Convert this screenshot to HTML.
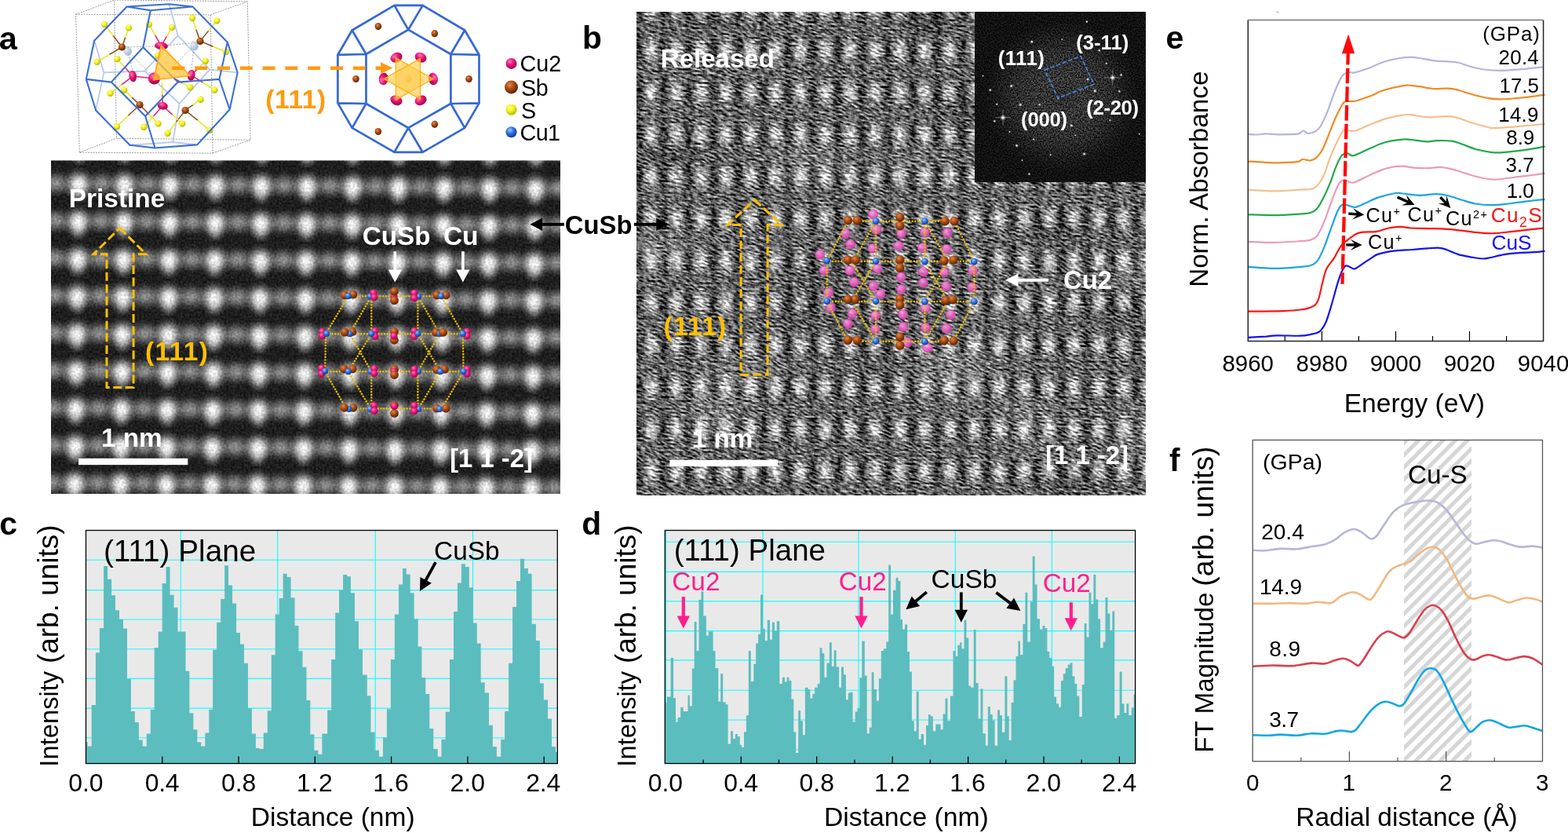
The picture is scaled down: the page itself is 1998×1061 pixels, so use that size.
<!DOCTYPE html>
<html lang="en"><head><meta charset="utf-8"><title>Figure</title>
<style>
html,body{margin:0;padding:0;background:#fff;}
body{width:1998px;height:1061px;overflow:hidden;}
svg{display:block;font-family:"Liberation Sans",sans-serif;}
</style></head><body>
<svg width="1998" height="1061" viewBox="0 0 1998 1061">
<defs>
<radialGradient id="gw"><stop offset="0" stop-color="#fff" stop-opacity="1"/><stop offset=".2" stop-color="#fff" stop-opacity=".9"/><stop offset=".4" stop-color="#fff" stop-opacity=".62"/><stop offset=".6" stop-color="#fff" stop-opacity=".3"/><stop offset=".8" stop-color="#fff" stop-opacity=".09"/><stop offset="1" stop-color="#fff" stop-opacity="0"/></radialGradient>
<radialGradient id="gk"><stop offset="0" stop-color="#000" stop-opacity="1"/><stop offset=".2" stop-color="#000" stop-opacity=".9"/><stop offset=".4" stop-color="#000" stop-opacity=".62"/><stop offset=".6" stop-color="#000" stop-opacity=".3"/><stop offset=".8" stop-color="#000" stop-opacity=".09"/><stop offset="1" stop-color="#000" stop-opacity="0"/></radialGradient>
<linearGradient id="aband" x1="0" y1="0" x2="0" y2="1"><stop offset="0" stop-color="#fff" stop-opacity="0"/><stop offset=".5" stop-color="#fff" stop-opacity=".2"/><stop offset="1" stop-color="#fff" stop-opacity="0"/></linearGradient>
<pattern id="pa" patternUnits="userSpaceOnUse" x="71.3" y="210.5" width="58.19" height="47.67" patternTransform="matrix(1 .00964 -.0132 1 3.09 -.968)"><rect width="59.2" height="48.7" fill="#1c1c1c"/><rect x="-1" y="7.8" width="60.2" height="32" fill="url(#aband)"/><ellipse cx="0" cy="22.8" rx="21" ry="19" fill="url(#gw)" opacity=".4"/><ellipse cx="58.2" cy="22.8" rx="21" ry="19" fill="url(#gw)" opacity=".4"/><ellipse cx="29.1" cy="32.8" rx="14" ry="20" fill="url(#gw)" opacity=".45"/><ellipse cx="29.1" cy="23.8" rx="21" ry="22.5" fill="url(#gw)" opacity=".97"/></pattern>
<filter id="na" x="0" y="0" width="100%" height="100%" color-interpolation-filters="sRGB"><feTurbulence type="fractalNoise" baseFrequency=".36" numOctaves="1" seed="3" result="t"/><feColorMatrix in="t" type="matrix" values="2.2 0 0 0 -.6  2.2 0 0 0 -.6  2.2 0 0 0 -.6  0 0 0 0 1" result="n"/><feComposite in="SourceGraphic" in2="n" operator="arithmetic" k1=".1" k2=".92" k3=".1" k4="-.04"/></filter>
<pattern id="pb" patternUnits="userSpaceOnUse" x="1035.9" y="305.4" width="31.69" height="53.57"><rect width="32.7" height="54.6" fill="#6a6a6a"/><ellipse cx="0" cy="26.8" rx="10" ry="40" fill="url(#gk)" opacity=".55"/><ellipse cx="31.7" cy="26.8" rx="10" ry="40" fill="url(#gk)" opacity=".55"/><ellipse cx="15.8" cy="0" rx="18" ry="12" fill="url(#gk)" opacity=".05"/><ellipse cx="15.8" cy="53.6" rx="18" ry="12" fill="url(#gk)" opacity=".05"/><ellipse cx="15.8" cy="26.8" rx="13.5" ry="22" fill="url(#gw)" opacity=".75"/></pattern>
<filter id="nb" x="0" y="0" width="100%" height="100%" color-interpolation-filters="sRGB"><feTurbulence type="fractalNoise" baseFrequency=".33 .4" numOctaves="2" seed="11" result="t"/><feColorMatrix in="t" type="matrix" values="1 0 0 0 0  1 0 0 0 0  1 0 0 0 0  0 0 0 0 1" result="g"/><feConvolveMatrix in="g" order="5 3" kernelMatrix="1 .6 0 0 0  .3 1 1 1 .3  0 0 0 .6 1" divisor="6.8" edgeMode="duplicate" preserveAlpha="true" result="c"/><feColorMatrix in="c" type="matrix" values="2.80 0 0 0 -0.900  2.80 0 0 0 -0.900  2.80 0 0 0 -0.900  0 0 0 0 1" result="n"/><feComposite in="SourceGraphic" in2="n" operator="arithmetic" k1="0" k2="1" k3="1" k4="-.5"/></filter>
<clipPath id="cb"><rect x="811" y="15.5" width="649" height="614.8"/></clipPath>
<radialGradient id="gfft"><stop offset="0" stop-color="#fff" stop-opacity=".07"/><stop offset=".25" stop-color="#fff" stop-opacity=".1"/><stop offset=".6" stop-color="#fff" stop-opacity=".07"/><stop offset=".85" stop-color="#fff" stop-opacity=".02"/><stop offset="1" stop-color="#fff" stop-opacity="0"/></radialGradient>
<filter id="nf" x="0" y="0" width="100%" height="100%" color-interpolation-filters="sRGB"><feTurbulence type="fractalNoise" baseFrequency=".55" numOctaves="2" seed="7" result="t"/><feColorMatrix in="t" type="matrix" values="2.6 0 0 0 -.8  2.6 0 0 0 -.8  2.6 0 0 0 -.8  0 0 0 0 1" result="n"/><feComposite in="SourceGraphic" in2="n" operator="arithmetic" k1="2.1" k2=".5" k3=".04" k4="-.012"/></filter>
<radialGradient id="sY" cx=".38" cy=".32" r=".75"><stop offset="0" stop-color="#ffff9a"/><stop offset=".45" stop-color="#f2f21a"/><stop offset="1" stop-color="#a8a800"/></radialGradient>
<radialGradient id="sB" cx=".38" cy=".32" r=".75"><stop offset="0" stop-color="#e08a50"/><stop offset=".45" stop-color="#a84a12"/><stop offset="1" stop-color="#4a1c00"/></radialGradient>
<radialGradient id="sM" cx=".38" cy=".32" r=".75"><stop offset="0" stop-color="#ff7ab8"/><stop offset=".45" stop-color="#ea1676"/><stop offset="1" stop-color="#8e0044"/></radialGradient>
<radialGradient id="sC" cx=".38" cy=".32" r=".75"><stop offset="0" stop-color="#9cc6ff"/><stop offset=".45" stop-color="#2f6fe0"/><stop offset="1" stop-color="#0b2f8c"/></radialGradient>
<radialGradient id="sL" cx=".38" cy=".32" r=".75"><stop offset="0" stop-color="#e6f0f8"/><stop offset=".45" stop-color="#b4cde0"/><stop offset="1" stop-color="#86a6c4"/></radialGradient>
<radialGradient id="sP" cx=".38" cy=".32" r=".75"><stop offset="0" stop-color="#f7a6e0"/><stop offset=".45" stop-color="#ee6cc8"/><stop offset="1" stop-color="#d23aa6"/></radialGradient>
<radialGradient id="sO" cx=".38" cy=".32" r=".75"><stop offset="0" stop-color="#ffd06a"/><stop offset=".45" stop-color="#e8a018"/><stop offset="1" stop-color="#9a6400"/></radialGradient>
<clipPath id="ce"><rect x="1590.3" y="25.5" width="378.3" height="409"/></clipPath>
<pattern id="hatch" patternUnits="userSpaceOnUse" width="11" height="11" patternTransform="translate(1789 560.5) rotate(-45)"><rect width="11" height="11" fill="#fff"/><rect y="0" width="11" height="5" fill="#d6d6d6"/></pattern>
</defs>
<rect width="1998" height="1061" fill="#fff"/>
<rect x="65" y="204.5" width="649" height="424.5" fill="url(#pa)" filter="url(#na)"/>
<g clip-path="url(#cb)"><g filter="url(#nb)"><rect x="803" y="7.5" width="665" height="630.8" fill="url(#pb)"/><ellipse cx="1215.3" cy="471.6" rx="79.8" ry="67.7" fill="url(#gw)" opacity="0.19"/><ellipse cx="1409.6" cy="33.3" rx="63.3" ry="67.7" fill="url(#gk)" opacity="0.18"/><ellipse cx="1395.7" cy="85.1" rx="63.5" ry="39.9" fill="url(#gw)" opacity="0.17"/><ellipse cx="1183.5" cy="23.6" rx="50.8" ry="41.2" fill="url(#gk)" opacity="0.21"/><ellipse cx="1308" cy="113.6" rx="79.9" ry="35.6" fill="url(#gw)" opacity="0.17"/><ellipse cx="893.2" cy="16.6" rx="83.6" ry="38.4" fill="url(#gk)" opacity="0.13"/><ellipse cx="1448.6" cy="551.9" rx="54.5" ry="68.5" fill="url(#gw)" opacity="0.16"/><ellipse cx="1250.9" cy="141.4" rx="87" ry="57.6" fill="url(#gk)" opacity="0.22"/><ellipse cx="1391" cy="199.2" rx="58.1" ry="36.6" fill="url(#gw)" opacity="0.12"/><ellipse cx="853.3" cy="200.8" rx="70.2" ry="30.1" fill="url(#gk)" opacity="0.18"/><ellipse cx="1030.3" cy="206.1" rx="80.9" ry="49.2" fill="url(#gw)" opacity="0.14"/><ellipse cx="1123.3" cy="448.7" rx="42.9" ry="69" fill="url(#gk)" opacity="0.10"/><ellipse cx="1297.6" cy="534.9" rx="40.9" ry="61.5" fill="url(#gw)" opacity="0.14"/><ellipse cx="1186.5" cy="21.1" rx="42.3" ry="37.2" fill="url(#gk)" opacity="0.21"/><ellipse cx="938.5" cy="480.1" rx="86.5" ry="67.7" fill="url(#gw)" opacity="0.14"/><ellipse cx="1041.3" cy="338.1" rx="78.8" ry="34.3" fill="url(#gk)" opacity="0.19"/><ellipse cx="1328.4" cy="544" rx="41.8" ry="67.8" fill="url(#gw)" opacity="0.11"/><ellipse cx="1032.1" cy="391" rx="85.9" ry="43.6" fill="url(#gk)" opacity="0.21"/><ellipse cx="1164.8" cy="207.6" rx="55.8" ry="37.1" fill="url(#gw)" opacity="0.11"/><ellipse cx="907.6" cy="439.2" rx="89.8" ry="36.5" fill="url(#gk)" opacity="0.11"/><ellipse cx="1451.4" cy="343.5" rx="60.3" ry="39.5" fill="url(#gw)" opacity="0.17"/><ellipse cx="1347.3" cy="295.6" rx="61.1" ry="32.2" fill="url(#gk)" opacity="0.21"/><ellipse cx="832.2" cy="318.9" rx="81.9" ry="35.2" fill="url(#gw)" opacity="0.19"/><ellipse cx="1427.4" cy="403.1" rx="79.4" ry="34.3" fill="url(#gk)" opacity="0.15"/><ellipse cx="907.9" cy="534.8" rx="54.7" ry="48.1" fill="url(#gw)" opacity="0.22"/><ellipse cx="1364.1" cy="615.5" rx="62.7" ry="49.5" fill="url(#gk)" opacity="0.19"/></g></g>
<g filter="url(#nf)"><rect x="1242" y="15.5" width="218" height="216.5" fill="#0a0a0a"/><ellipse cx="1353.3" cy="122.6" rx="100" ry="98" fill="url(#gfft)"/></g>
<g><circle cx="1384.9" cy="27.6" r="2.2" fill="url(#gw)"/><circle cx="1314.8" cy="53.2" r="2.7" fill="url(#gw)"/><circle cx="1400.8" cy="64.3" r="2.3" fill="url(#gw)"/><circle cx="1417.7" cy="98.9" r="4.3" fill="url(#gw)"/><circle cx="1428.6" cy="95.5" r="2.4" fill="url(#gw)"/><circle cx="1261.7" cy="114.7" r="2.4" fill="url(#gw)"/><circle cx="1288.8" cy="109.5" r="2.7" fill="url(#gw)"/><circle cx="1395.1" cy="115.8" r="2.7" fill="url(#gw)"/><circle cx="1426.3" cy="116.3" r="2.2" fill="url(#gw)"/><circle cx="1386.1" cy="101.1" r="2.4" fill="url(#gw)"/><circle cx="1300.1" cy="133.5" r="2.7" fill="url(#gw)"/><circle cx="1270.3" cy="132.8" r="2" fill="url(#gw)"/><circle cx="1278" cy="149.8" r="4.3" fill="url(#gw)"/><circle cx="1267.3" cy="154.3" r="2.2" fill="url(#gw)"/><circle cx="1324.6" cy="133.3" r="1.9" fill="url(#gw)"/><circle cx="1365.3" cy="159.9" r="2.7" fill="url(#gw)"/><circle cx="1317.1" cy="177.4" r="2" fill="url(#gw)"/><circle cx="1295.6" cy="185.5" r="2.7" fill="url(#gw)"/><circle cx="1381.6" cy="196.1" r="2.7" fill="url(#gw)"/><circle cx="1311.4" cy="221.7" r="2.2" fill="url(#gw)"/><circle cx="1348.3" cy="124.9" r="2.2" fill="url(#gw)"/><circle cx="1409.8" cy="80.8" r="1.9" fill="url(#gw)"/><circle cx="1286.6" cy="167.9" r="1.8" fill="url(#gw)"/><circle cx="1414.4" cy="153.2" r="1.9" fill="url(#gw)"/><circle cx="1353.3" cy="50.2" r="1.6" fill="url(#gw)"/><circle cx="1451.7" cy="170.6" r="1.6" fill="url(#gw)"/><circle cx="1302.4" cy="204.1" r="1.6" fill="url(#gw)"/><circle cx="1252.6" cy="96.6" r="1.6" fill="url(#gw)"/><circle cx="1370.2" cy="172.4" r="1.6" fill="url(#gw)"/><circle cx="1338.6" cy="197.3" r="1.8" fill="url(#gw)"/><path d="M1407.7 98.9h20M1417.7 88.9v20" stroke="#fff" stroke-opacity=".45" stroke-width=".8"/><path d="M1268 149.8h20M1278 139.8v20" stroke="#fff" stroke-opacity=".45" stroke-width=".8"/></g>
<g><path d="M96.6 18.3L268.2 18.9L271 195.1L101.3 194.2ZM145.6 0L315.3 1.9L319.1 178.2L148.4 176.3ZM96.6 18.3L145.6 0M268.2 18.9L315.3 1.9M271 195.1L319.1 178.2M101.3 194.2L148.4 176.3" fill="none" stroke="#555" stroke-width=".6" stroke-dasharray="2 1.3"/><path d="M215.4 5.3L226.7 45.2M226.7 45.2L267.2 88.6M267.2 88.6L302.7 92.4M267.2 88.6L228.6 132M228.6 132L184.3 90.5M184.3 90.5L226.7 45.2M184.3 90.5L132.4 92.4M132.4 92.4L120.2 51.8M132.4 92.4L122.1 140.5M228.6 132L220.1 181M220.1 181L165.4 184.8M220.1 181L251.2 184.4" fill="none" stroke="#b9c9f0" stroke-width="1.8" stroke-linecap="round"/><path d="M162.6 60L205.4 58.4M205.4 58.4L247.4 54.7M162.6 65L169.2 90.5M162.6 65L191.8 94.3M247.4 58.4L243.7 88.6M247.4 58.4L222 83" fill="none" stroke="#777" stroke-width=".6" stroke-dasharray="2.2 1.6"/><ellipse cx="162.6" cy="65" rx="5.2" ry="6" fill="url(#sL)" opacity=".85" transform="rotate(-20 162.6 65)"/><ellipse cx="247.4" cy="58.4" rx="5.2" ry="6" fill="url(#sL)" opacity=".85" transform="rotate(-20 247.4 58.4)"/><path d="M155.4 60L144.2 45.5M155.4 60L159.7 47.7M155.4 60L139.5 69.4M255 52.4L250 37.7M255 52.4L265.6 39.4M255 52.4L271.5 59.2M178 133.5L168.1 124.1M178 133.5L163.4 147.3M178 133.5L189.8 145.5M236.1 140.5L245.8 133.6M236.1 140.5L224.8 155.1M236.1 140.5L251.7 153.2" stroke="#8a4a12" stroke-width="1.5" fill="none"/><path d="M205.4 58.4L197.7 44.8M205.4 58.4L212.3 46.7M169.2 97.1L159.3 86.1M169.2 97.1L154.9 107.9M243.7 95.8L252.8 86.7M243.7 95.8L258.5 105.2M222 99.9L232.2 105.6M207.3 134.8L206.9 120.2M207.3 134.8L195.3 148.3M207.3 134.8L219.8 146.1M169.2 97.1L196.5 99.9" stroke="#e8206e" stroke-width="1.5" fill="none"/><path d="M144.2 45.5L133 31.1M159.7 47.7L163.9 35.4M139.5 69.4L123.6 78.8M250 37.7L245 23M265.6 39.4L276.3 26.4M271.5 59.2L288 66M197.7 44.8L189.9 31.1M212.3 46.7L219.1 34.9M159.3 86.1L149.4 75M154.9 107.9L140.5 118.8M252.8 86.7L261.9 77.7M258.5 105.2L273.3 114.6M232.2 105.6L242.3 111.2M206.9 120.2L206.5 105.6M195.3 148.3L183.3 161.8M219.8 146.1L232.3 157.4M168.1 124.1L158.2 114.6M163.4 147.3L148.8 161.2M189.8 145.5L201.6 157.4M245.8 133.6L255.5 126.7M224.8 155.1L213.5 169.7M251.7 153.2L267.2 165.9" stroke="#e6e620" stroke-width="1.5" fill="none"/><circle cx="133" cy="31.1" r="4.2" fill="url(#sY)"/><circle cx="163.9" cy="35.4" r="4.2" fill="url(#sY)"/><circle cx="189.9" cy="31.1" r="4.2" fill="url(#sY)"/><circle cx="219.1" cy="34.9" r="4.2" fill="url(#sY)"/><circle cx="245" cy="23" r="4.2" fill="url(#sY)"/><circle cx="276.3" cy="26.4" r="4.2" fill="url(#sY)"/><circle cx="123.6" cy="78.8" r="4.2" fill="url(#sY)"/><circle cx="149.4" cy="75" r="4.2" fill="url(#sY)"/><circle cx="288" cy="66" r="4.2" fill="url(#sY)"/><circle cx="261.9" cy="77.7" r="4.2" fill="url(#sY)"/><circle cx="140.5" cy="118.8" r="4.2" fill="url(#sY)"/><circle cx="158.2" cy="114.6" r="4.2" fill="url(#sY)"/><circle cx="242.3" cy="111.2" r="4.2" fill="url(#sY)"/><circle cx="273.3" cy="114.6" r="4.2" fill="url(#sY)"/><circle cx="255.5" cy="126.7" r="4.2" fill="url(#sY)"/><circle cx="148.8" cy="161.2" r="4.2" fill="url(#sY)"/><circle cx="183.3" cy="161.8" r="4.2" fill="url(#sY)"/><circle cx="201.6" cy="157.4" r="4.2" fill="url(#sY)"/><circle cx="213.5" cy="169.7" r="4.2" fill="url(#sY)"/><circle cx="232.3" cy="157.4" r="4.2" fill="url(#sY)"/><circle cx="267.2" cy="165.9" r="4.2" fill="url(#sY)"/><circle cx="201.2" cy="70.7" r="4.2" fill="url(#sY)"/><circle cx="155.4" cy="60" r="4.6" fill="url(#sB)"/><circle cx="255" cy="52.4" r="4.6" fill="url(#sB)"/><circle cx="178" cy="133.5" r="4.6" fill="url(#sB)"/><circle cx="236.1" cy="140.5" r="4.6" fill="url(#sB)"/><ellipse cx="205.4" cy="58.4" rx="8.5" ry="4.8" fill="url(#sM)" transform="rotate(5 205.4 58.4)"/><ellipse cx="169.2" cy="97.1" rx="4.8" ry="7.2" fill="url(#sM)" transform="rotate(-8 169.2 97.1)"/><ellipse cx="196.5" cy="99.9" rx="7.6" ry="7.6" fill="url(#sM)" transform="rotate(0 196.5 99.9)"/><ellipse cx="243.7" cy="95.8" rx="4.8" ry="7.2" fill="url(#sM)" transform="rotate(8 243.7 95.8)"/><ellipse cx="207.3" cy="134.8" rx="6.6" ry="4.8" fill="url(#sM)" transform="rotate(10 207.3 134.8)"/><path d="M161.6 8.5L191.8 13.2M191.8 13.2L245.5 8.5M245.5 8.5L215.4 5.3M215.4 5.3L161.6 8.5M245.5 8.5L289.8 53.7M289.8 53.7L302.7 92.4M302.7 92.4L292.7 139.5M292.7 139.5L251.2 184.4M251.2 184.4L197.5 188.5M197.5 188.5L165.4 184.8M165.4 184.8L122.1 140.5M122.1 140.5L109.8 100.9M109.8 100.9L120.2 51.8M120.2 51.8L161.6 8.5M191.8 13.2L182.4 60.3M182.4 60.3L141.8 104.6M182.4 60.3L226.7 104.6M226.7 104.6L185.2 148M185.2 148L141.8 104.6M109.8 100.9L141.8 104.6M226.7 104.6L279.5 100.9M279.5 100.9L289.8 53.7M279.5 100.9L292.7 139.5M185.2 148L197.5 188.5" fill="none" stroke="#3d6fd2" stroke-width="2.1" stroke-linecap="round"/><polygon points="205.4,58.1 195.6,101.8 242.3,96.5" fill="#ffc640" fill-opacity=".78" stroke="#ffa51e" stroke-width="1.6" stroke-linejoin="round"/></g>
<g><path d="M502.5 6.9L538.6 6.9L592.2 38.5L610.5 69.8L610.5 131.4L592.2 162.9L538.6 193.8L502.5 193.8L448.7 162.9L430.4 131.4L430.4 69.8L448.7 38.5ZM520.3 37.8L574.4 69L574.4 132L520.3 162.9L466.5 132L466.5 69ZM520.3 37.8L502.5 6.9M520.3 37.8L538.6 6.9M574.4 69L592.2 38.5M574.4 69L610.5 69.8M574.4 132L610.5 131.4M574.4 132L592.2 162.9M520.3 162.9L538.6 193.8M520.3 162.9L502.5 193.8M466.5 132L448.7 162.9M466.5 132L430.4 131.4M466.5 69L430.4 69.8M466.5 69L448.7 38.5" fill="none" stroke="#3568d4" stroke-width="2.7" stroke-linejoin="round" stroke-linecap="round"/><ellipse cx="481.9" cy="33.6" rx="4.3" ry="4.6" fill="url(#sB)"/><ellipse cx="553.8" cy="42.7" rx="4.3" ry="4.6" fill="url(#sB)"/><ellipse cx="597.5" cy="100.5" rx="4.3" ry="4.6" fill="url(#sB)"/><ellipse cx="553.8" cy="158.3" rx="4.3" ry="4.6" fill="url(#sB)"/><ellipse cx="481.9" cy="167.5" rx="4.3" ry="4.6" fill="url(#sB)"/><ellipse cx="453.5" cy="100.5" rx="4.3" ry="4.6" fill="url(#sB)"/><ellipse cx="505" cy="73.2" rx="7.8" ry="6" fill="url(#sM)" transform="rotate(-25 505 73.2)"/><ellipse cx="536.1" cy="73.2" rx="7.8" ry="6" fill="url(#sM)" transform="rotate(25 536.1 73.2)"/><ellipse cx="551.9" cy="100.5" rx="7.8" ry="6" fill="url(#sM)" transform="rotate(80 551.9 100.5)"/><ellipse cx="536.1" cy="127.8" rx="7.8" ry="6" fill="url(#sM)" transform="rotate(-25 536.1 127.8)"/><ellipse cx="505" cy="127.8" rx="7.8" ry="6" fill="url(#sM)" transform="rotate(25 505 127.8)"/><ellipse cx="488.8" cy="100.5" rx="7.8" ry="6" fill="url(#sM)" transform="rotate(-80 488.8 100.5)"/><circle cx="520.3" cy="100.9" r="4.4" fill="url(#sO)"/><polygon points="504.4,73.6 551.9,100.5 504.4,127.4" fill="#ffcd55" fill-opacity=".68" stroke="#ffb000" stroke-width="1.3" stroke-linejoin="round"/><polygon points="535.5,74.6 535.5,126.1 489.2,100.5" fill="#ffcd55" fill-opacity=".68" stroke="#ffb000" stroke-width="1.3" stroke-linejoin="round"/></g>
<path d="M219.4 86.8H486" stroke="#ff9a10" stroke-width="4.4" stroke-dasharray="16 12.8" stroke-dashoffset="0" fill="none"/>
<polygon points="500.4,86.6 485,79.3 485,94" fill="#ff9a10"/>
<circle cx="651.5" cy="80.9" r="7" fill="url(#sM)"/>
<circle cx="651.5" cy="111" r="8.5" fill="url(#sB)"/>
<circle cx="651.5" cy="139.8" r="7" fill="url(#sY)"/>
<circle cx="651.5" cy="168.2" r="7" fill="url(#sC)"/>
<g><path d="M443.7 377.2L562 377.2M416 425.2L589.7 425.2M414.2 473.2L590.6 473.2M444.6 520.5L560.2 520.5M443.7 377.2L415.1 425.2M415.1 425.2L414.2 473.2M414.2 473.2L441.1 520.5M562 377.2L589.7 425.2M589.7 425.2L590.6 473.2M590.6 473.2L562.9 520.5M473.3 377.2L473.3 425.2M532.4 377.2L532.4 425.2M473.3 473.2L473.3 520.5M532.4 473.2L532.4 520.5M473.3 377.2L445.5 425.2M445.5 425.2L473.3 473.2M473.3 425.2L443.7 473.2M443.7 473.2L472.4 520.5M532.4 377.2L560.2 425.2M560.2 425.2L532.4 473.2M532.4 425.2L561.1 473.2M561.1 473.2L533.3 520.5" fill="none" stroke="#e8bc00" stroke-width="2.5" stroke-dasharray="0.1 3.6" stroke-linecap="round"/><circle cx="450" cy="375.1" r="5.4" fill="url(#sB)"/><circle cx="439.3" cy="376" r="5.4" fill="url(#sB)"/><circle cx="443.7" cy="377.2" r="4" fill="url(#sC)"/><circle cx="471.5" cy="377.8" r="4" fill="url(#sC)"/><circle cx="476" cy="373.3" r="4.6" fill="url(#sM)"/><circle cx="476.9" cy="378.7" r="4.6" fill="url(#sM)"/><circle cx="502" cy="377.2" r="4.6" fill="url(#sM)"/><circle cx="502.5" cy="371.1" r="5.4" fill="url(#sB)"/><circle cx="502.5" cy="382.6" r="5.4" fill="url(#sB)"/><circle cx="533.3" cy="377.8" r="4" fill="url(#sC)"/><circle cx="527.9" cy="373.3" r="4.6" fill="url(#sM)"/><circle cx="527.9" cy="379.6" r="4.6" fill="url(#sM)"/><circle cx="556.6" cy="376" r="5.4" fill="url(#sB)"/><circle cx="568.2" cy="376" r="5.4" fill="url(#sB)"/><circle cx="562" cy="377.2" r="4" fill="url(#sC)"/><circle cx="410.6" cy="422.5" r="4.6" fill="url(#sM)"/><circle cx="410.6" cy="427.9" r="4.6" fill="url(#sM)"/><circle cx="416" cy="424.9" r="4" fill="url(#sC)"/><circle cx="449.1" cy="422.5" r="5.4" fill="url(#sB)"/><circle cx="445.5" cy="425.2" r="4" fill="url(#sC)"/><circle cx="439.3" cy="423.1" r="5.4" fill="url(#sB)"/><circle cx="477.8" cy="421.7" r="4.6" fill="url(#sM)"/><circle cx="477.8" cy="428.5" r="4.6" fill="url(#sM)"/><circle cx="473.3" cy="425.2" r="4" fill="url(#sC)"/><circle cx="502.5" cy="422.5" r="5.4" fill="url(#sB)"/><circle cx="502.5" cy="433.3" r="5.4" fill="url(#sB)"/><circle cx="502" cy="427.9" r="4.6" fill="url(#sM)"/><circle cx="527.9" cy="421.7" r="4.6" fill="url(#sM)"/><circle cx="527.9" cy="428.5" r="4.6" fill="url(#sM)"/><circle cx="532.4" cy="424.9" r="4" fill="url(#sC)"/><circle cx="555.7" cy="423.4" r="5.4" fill="url(#sB)"/><circle cx="560.2" cy="425.2" r="4" fill="url(#sC)"/><circle cx="564.6" cy="423.4" r="5.4" fill="url(#sB)"/><circle cx="595.1" cy="422.5" r="4.6" fill="url(#sM)"/><circle cx="595.1" cy="427.9" r="4.6" fill="url(#sM)"/><circle cx="589.7" cy="425.2" r="4" fill="url(#sC)"/><circle cx="409.7" cy="469.1" r="4.6" fill="url(#sM)"/><circle cx="409.7" cy="476.3" r="4.6" fill="url(#sM)"/><circle cx="414.2" cy="472.7" r="4" fill="url(#sC)"/><circle cx="438.4" cy="470" r="5.4" fill="url(#sB)"/><circle cx="449.1" cy="470" r="5.4" fill="url(#sB)"/><circle cx="443.7" cy="473.2" r="4" fill="url(#sC)"/><circle cx="472.4" cy="473.2" r="4" fill="url(#sC)"/><circle cx="476.9" cy="469.7" r="4.6" fill="url(#sM)"/><circle cx="476.9" cy="475.7" r="4.6" fill="url(#sM)"/><circle cx="502.5" cy="470.4" r="5.4" fill="url(#sB)"/><circle cx="502" cy="473.6" r="4.6" fill="url(#sM)"/><circle cx="502.5" cy="477.5" r="5.4" fill="url(#sB)"/><circle cx="532.9" cy="473.2" r="4" fill="url(#sC)"/><circle cx="527.9" cy="470.4" r="4.6" fill="url(#sM)"/><circle cx="527.9" cy="476.3" r="4.6" fill="url(#sM)"/><circle cx="556.6" cy="470.9" r="5.4" fill="url(#sB)"/><circle cx="566.4" cy="470.4" r="5.4" fill="url(#sB)"/><circle cx="561.1" cy="473.2" r="4" fill="url(#sC)"/><circle cx="595.1" cy="470.4" r="4.6" fill="url(#sM)"/><circle cx="595.1" cy="476.3" r="4.6" fill="url(#sM)"/><circle cx="590.6" cy="473.2" r="4" fill="url(#sC)"/><circle cx="450" cy="519.3" r="5.4" fill="url(#sB)"/><circle cx="444.6" cy="521.1" r="4" fill="url(#sC)"/><circle cx="438.7" cy="519.3" r="5.4" fill="url(#sB)"/><circle cx="471.5" cy="521.1" r="4" fill="url(#sC)"/><circle cx="476.9" cy="516.6" r="4.6" fill="url(#sM)"/><circle cx="476.9" cy="523.4" r="4.6" fill="url(#sM)"/><circle cx="502.5" cy="526.4" r="5.4" fill="url(#sB)"/><circle cx="502.5" cy="516.2" r="5.4" fill="url(#sB)"/><circle cx="502.5" cy="517.5" r="4.6" fill="url(#sM)"/><circle cx="533.3" cy="521.1" r="4" fill="url(#sC)"/><circle cx="527.9" cy="516.6" r="4.6" fill="url(#sM)"/><circle cx="527.9" cy="523.8" r="4.6" fill="url(#sM)"/><circle cx="556.6" cy="520.2" r="5.4" fill="url(#sB)"/><circle cx="560.2" cy="521.1" r="4" fill="url(#sC)"/><circle cx="568.2" cy="520.2" r="5.4" fill="url(#sB)"/></g>
<g><circle cx="1112.6" cy="272.8" r="6" fill="url(#sP)" fill-opacity=".88" stroke="#d43aa8" stroke-opacity=".75" stroke-width="1"/><circle cx="1077.4" cy="297.5" r="6" fill="url(#sP)" fill-opacity=".88" stroke="#d43aa8" stroke-opacity=".75" stroke-width="1"/><circle cx="1083.7" cy="311" r="6" fill="url(#sP)" fill-opacity=".88" stroke="#d43aa8" stroke-opacity=".75" stroke-width="1"/><circle cx="1044.7" cy="324.2" r="6" fill="url(#sP)" fill-opacity=".88" stroke="#d43aa8" stroke-opacity=".75" stroke-width="1"/><circle cx="1117" cy="292.6" r="6" fill="url(#sP)" fill-opacity=".88" stroke="#d43aa8" stroke-opacity=".75" stroke-width="1"/><circle cx="1112" cy="316.3" r="6" fill="url(#sP)" fill-opacity=".88" stroke="#d43aa8" stroke-opacity=".75" stroke-width="1"/><circle cx="1148.7" cy="297.5" r="6" fill="url(#sP)" fill-opacity=".88" stroke="#d43aa8" stroke-opacity=".75" stroke-width="1"/><circle cx="1145.1" cy="312.9" r="6" fill="url(#sP)" fill-opacity=".88" stroke="#d43aa8" stroke-opacity=".75" stroke-width="1"/><circle cx="1178.4" cy="295.9" r="6" fill="url(#sP)" fill-opacity=".88" stroke="#d43aa8" stroke-opacity=".75" stroke-width="1"/><circle cx="1175.4" cy="315.7" r="6" fill="url(#sP)" fill-opacity=".88" stroke="#d43aa8" stroke-opacity=".75" stroke-width="1"/><circle cx="1207.1" cy="296.5" r="6" fill="url(#sP)" fill-opacity=".88" stroke="#d43aa8" stroke-opacity=".75" stroke-width="1"/><circle cx="1206.1" cy="317.3" r="6" fill="url(#sP)" fill-opacity=".88" stroke="#d43aa8" stroke-opacity=".75" stroke-width="1"/><circle cx="1050.1" cy="344.6" r="6" fill="url(#sP)" fill-opacity=".88" stroke="#d43aa8" stroke-opacity=".75" stroke-width="1"/><circle cx="1082.9" cy="344.6" r="6" fill="url(#sP)" fill-opacity=".88" stroke="#d43aa8" stroke-opacity=".75" stroke-width="1"/><circle cx="1118" cy="342" r="6" fill="url(#sP)" fill-opacity=".88" stroke="#d43aa8" stroke-opacity=".75" stroke-width="1"/><circle cx="1088.3" cy="359.3" r="6" fill="url(#sP)" fill-opacity=".88" stroke="#d43aa8" stroke-opacity=".75" stroke-width="1"/><circle cx="1113" cy="364.4" r="6" fill="url(#sP)" fill-opacity=".88" stroke="#d43aa8" stroke-opacity=".75" stroke-width="1"/><circle cx="1121.9" cy="374.7" r="6" fill="url(#sP)" fill-opacity=".88" stroke="#d43aa8" stroke-opacity=".75" stroke-width="1"/><circle cx="1148.3" cy="352.9" r="6" fill="url(#sP)" fill-opacity=".88" stroke="#d43aa8" stroke-opacity=".75" stroke-width="1"/><circle cx="1148.3" cy="368.4" r="6" fill="url(#sP)" fill-opacity=".88" stroke="#d43aa8" stroke-opacity=".75" stroke-width="1"/><circle cx="1176.4" cy="346" r="6" fill="url(#sP)" fill-opacity=".88" stroke="#d43aa8" stroke-opacity=".75" stroke-width="1"/><circle cx="1176.4" cy="359.9" r="6" fill="url(#sP)" fill-opacity=".88" stroke="#d43aa8" stroke-opacity=".75" stroke-width="1"/><circle cx="1203.1" cy="347" r="6" fill="url(#sP)" fill-opacity=".88" stroke="#d43aa8" stroke-opacity=".75" stroke-width="1"/><circle cx="1205.7" cy="364.4" r="6" fill="url(#sP)" fill-opacity=".88" stroke="#d43aa8" stroke-opacity=".75" stroke-width="1"/><circle cx="1239.7" cy="344.6" r="6" fill="url(#sP)" fill-opacity=".88" stroke="#d43aa8" stroke-opacity=".75" stroke-width="1"/><circle cx="1238.7" cy="365.8" r="6" fill="url(#sP)" fill-opacity=".88" stroke="#d43aa8" stroke-opacity=".75" stroke-width="1"/><circle cx="1055.6" cy="372.7" r="6" fill="url(#sP)" fill-opacity=".88" stroke="#d43aa8" stroke-opacity=".75" stroke-width="1"/><circle cx="1058.6" cy="392.1" r="6" fill="url(#sP)" fill-opacity=".88" stroke="#d43aa8" stroke-opacity=".75" stroke-width="1"/><circle cx="1086.3" cy="399.4" r="6" fill="url(#sP)" fill-opacity=".88" stroke="#d43aa8" stroke-opacity=".75" stroke-width="1"/><circle cx="1080.4" cy="412.3" r="6" fill="url(#sP)" fill-opacity=".88" stroke="#d43aa8" stroke-opacity=".75" stroke-width="1"/><circle cx="1115.4" cy="402" r="6" fill="url(#sP)" fill-opacity=".88" stroke="#d43aa8" stroke-opacity=".75" stroke-width="1"/><circle cx="1115.4" cy="419.2" r="6" fill="url(#sP)" fill-opacity=".88" stroke="#d43aa8" stroke-opacity=".75" stroke-width="1"/><circle cx="1150.6" cy="400.4" r="6" fill="url(#sP)" fill-opacity=".88" stroke="#d43aa8" stroke-opacity=".75" stroke-width="1"/><circle cx="1151" cy="416.3" r="6" fill="url(#sP)" fill-opacity=".88" stroke="#d43aa8" stroke-opacity=".75" stroke-width="1"/><circle cx="1179.3" cy="392.5" r="6" fill="url(#sP)" fill-opacity=".88" stroke="#d43aa8" stroke-opacity=".75" stroke-width="1"/><circle cx="1179.3" cy="417.3" r="6" fill="url(#sP)" fill-opacity=".88" stroke="#d43aa8" stroke-opacity=".75" stroke-width="1"/><circle cx="1211.6" cy="400.8" r="6" fill="url(#sP)" fill-opacity=".88" stroke="#d43aa8" stroke-opacity=".75" stroke-width="1"/><circle cx="1206.1" cy="418.3" r="6" fill="url(#sP)" fill-opacity=".88" stroke="#d43aa8" stroke-opacity=".75" stroke-width="1"/><circle cx="1156.6" cy="436.1" r="6" fill="url(#sP)" fill-opacity=".88" stroke="#d43aa8" stroke-opacity=".75" stroke-width="1"/><circle cx="1181.9" cy="443" r="6" fill="url(#sP)" fill-opacity=".88" stroke="#d43aa8" stroke-opacity=".75" stroke-width="1"/><path d="M1092.2 281.7L1204.1 281.7M1053.7 332.7L1241.3 332.7M1053.7 384L1241.3 384M1092.2 434.7L1204.1 434.7M1080.4 281.7L1053.7 332.7M1053.7 332.7L1053.7 384M1053.7 384L1080.4 434.7M1216 281.7L1241.3 332.7M1241.3 332.7L1241.3 384M1241.3 384L1215 434.7M1116 281.7L1116 332.7M1178.4 281.7L1178.4 332.7M1116 384L1116 434.7M1178.4 384L1178.4 434.7M1116 281.7L1087.3 332.7M1085.3 332.7L1116 384M1116 332.7L1085.3 384M1085.3 384L1116 434.7M1178.4 281.7L1208 332.7M1208 332.7L1178.4 384M1178.4 332.7L1208 384M1208 384L1178.4 434.7" fill="none" stroke="#e8bc00" stroke-width="2.5" stroke-dasharray="0.1 3.6" stroke-linecap="round"/><circle cx="1080.4" cy="280.7" r="5.8" fill="url(#sB)"/><circle cx="1092.2" cy="280.7" r="5.8" fill="url(#sB)"/><circle cx="1116" cy="281.7" r="4.4" fill="url(#sC)"/><circle cx="1146.7" cy="287.6" r="5.8" fill="url(#sB)"/><circle cx="1146.7" cy="276.7" r="5.8" fill="url(#sB)"/><circle cx="1178.4" cy="281.7" r="4.4" fill="url(#sC)"/><circle cx="1204.1" cy="281.7" r="5.8" fill="url(#sB)"/><circle cx="1216" cy="281.7" r="5.8" fill="url(#sB)"/><circle cx="1053.7" cy="332.1" r="4.4" fill="url(#sC)"/><circle cx="1080.4" cy="331.2" r="5.8" fill="url(#sB)"/><circle cx="1090.3" cy="331.2" r="5.8" fill="url(#sB)"/><circle cx="1116" cy="332.7" r="4.4" fill="url(#sC)"/><circle cx="1146.7" cy="330.8" r="5.8" fill="url(#sB)"/><circle cx="1146.7" cy="341.1" r="5.8" fill="url(#sB)"/><circle cx="1178.4" cy="333.1" r="4.4" fill="url(#sC)"/><circle cx="1215" cy="331.2" r="5.8" fill="url(#sB)"/><circle cx="1203.1" cy="332.1" r="5.8" fill="url(#sB)"/><circle cx="1241.3" cy="333.1" r="4.4" fill="url(#sC)"/><circle cx="1053.7" cy="383.6" r="4.4" fill="url(#sC)"/><circle cx="1085.3" cy="384.6" r="4.4" fill="url(#sC)"/><circle cx="1089.3" cy="381.6" r="5.8" fill="url(#sB)"/><circle cx="1080.4" cy="381.6" r="5.8" fill="url(#sB)"/><circle cx="1116" cy="383.6" r="4.4" fill="url(#sC)"/><circle cx="1146.7" cy="380.6" r="5.8" fill="url(#sB)"/><circle cx="1146.7" cy="388.6" r="5.8" fill="url(#sB)"/><circle cx="1178.4" cy="384.2" r="4.4" fill="url(#sC)"/><circle cx="1208" cy="384.6" r="4.4" fill="url(#sC)"/><circle cx="1205.1" cy="382.6" r="5.8" fill="url(#sB)"/><circle cx="1214" cy="381.6" r="5.8" fill="url(#sB)"/><circle cx="1241.3" cy="384.2" r="4.4" fill="url(#sC)"/><circle cx="1080.4" cy="433.1" r="5.8" fill="url(#sB)"/><circle cx="1092.2" cy="433.1" r="5.8" fill="url(#sB)"/><circle cx="1116" cy="434.5" r="4.4" fill="url(#sC)"/><circle cx="1146.7" cy="440" r="5.8" fill="url(#sB)"/><circle cx="1146.7" cy="429.1" r="5.8" fill="url(#sB)"/><circle cx="1178.4" cy="435.1" r="4.4" fill="url(#sC)"/><circle cx="1203.1" cy="433.7" r="5.8" fill="url(#sB)"/><circle cx="1215" cy="434.1" r="5.8" fill="url(#sB)"/></g>
<path d="M152.6 290.4L186.1 323.8L170.1 323.8L170.1 493.6L136 493.6L136 323.8L119.1 323.8Z" fill="none" stroke="#ffc000" stroke-width="3" stroke-dasharray="11 4.5" stroke-linejoin="miter"/>
<path d="M961.5 254.6L996 286.4L978.1 286.4L978.1 477.3L944.1 477.3L944.1 286.4L927 286.4Z" fill="none" stroke="#ffc000" stroke-width="3" stroke-dasharray="11 4.5" stroke-linejoin="miter"/>
<rect x="100" y="583.8" width="139.3" height="8.3" fill="#fff"/>
<rect x="853.3" y="585.8" width="137.8" height="8.2" fill="#fff"/>
<path d="M503.3 320.2V346" stroke="#fff" stroke-width="3.6" fill="none"/><polygon points="503.3,359.4 494.7,343.5 511.9,343.5" fill="#fff"/>
<path d="M589.9 320.2V346" stroke="#fff" stroke-width="3.6" fill="none"/><polygon points="589.9,359.4 581.2,343.5 598.5,343.5" fill="#fff"/>
<path d="M690 285.8H719" stroke="#000" stroke-width="3.9" fill="none"/><polygon points="675.4,285.8 691.2,277.5 691.2,294.1" fill="#000"/>
<path d="M808 285.8H837" stroke="#000" stroke-width="3.9" fill="none"/><polygon points="852.2,285.8 836.3,277.5 836.3,294.1" fill="#000"/>
<path d="M1296 356.8H1335.9" stroke="#fff" stroke-width="4" fill="none"/><polygon points="1281,356.8 1297.5,348.6 1297.5,365" fill="#fff"/>
<polygon points="1331.1,89.1 1377,71.7 1394,107.2 1348.1,124.9" fill="none" stroke="#4a80d8" stroke-width="1.7" stroke-dasharray="5.5 2.5"/>
<rect x="109.5" y="675.5" width="600.8" height="297" fill="#e9e9e9"/>
<path d="M230.3 675.5V972.5M353.7 675.5V972.5M478.3 675.5V972.5M602.5 675.5V972.5M109.5 713.3H710.3M109.5 751.6H710.3M109.5 789H710.3M109.5 826.7H710.3M109.5 864.4H710.3M109.5 902.1H710.3M109.5 939.8H710.3" stroke="#1ff" stroke-width="1.1" fill="none"/>
<path d="M109.6 972.5V945.3H111.7V950.5H116.7V897.9H121.9V831.3H126.9V800H132.1V721.1H137.1V737.8H142.1V758.3H147V777.3H152V788.9H157V800.6H162V864.9H166.9V906.1H171.9V919.9H176.9V942.4H181.8V950.5H186.8V934.5H191.8V903.8H196.7V824.9H201.7V804.4H206.7V743.1H211.6V722H216.6V757.7H221.6V773.7H226.5V804.4H231.5V804.4H236.5V854.7H241.4V908.2H246.4V929.2H251.4V945.3H256.3V950.5H261.3V933.6H266.3V903.8H271.2V827.8H276.2V792.7H281.2V762.9H286.2V720.3H291.1V745.4H296.1V768.5H301.1V805.9H306V820.5H311V844.8H316V902.3H320.9V934.5H325.9V952.9H330.9V954.1H335.8V933.6H340.8V905.2H345.8V834.2H350.7V782.5H355.7V762.1H360.7V730.8H365.6V734.9H370.6V761.2H375.6V797.1H380.5V829.3H385.5V849.7H390.5V892.1H395.4V935.3H400.4V955.8H405.4V960.8H410.4V934.5H417.2V904.4H422.2V840.1H427.2V780.5H432.1V751.8H437.1V732H442.1V734.3H447V755.3H452V791.3H457V827.2H462V859.4H467.8V886.3H472.5V932.4H477.7V955.8H483V963.7H488V939.4H492.9V903.2H497.9V840.1H502.9V782.5H508.1V744.5H513.1V724.1H517.8V731.4H522.7V755.3H527.7V788.4H532.7V823.4H537.4V862.9H542.3V883.9H547.3V928H552.3V954.1H557.8V963.7H562.5V941.8H567.7V906.7H573V840.1H578V779H582.9V742.5H587.9V718.2H592.9V722H597.8V748.3H602.8V793.6H607.8V819.6H612.7V869.3H617.7V882.5H623V923.7H627.9V951.1H632.9V963.7H638.2V941.8H643.1V906.1H648.1V844.8H653.1V772.9H658V740.1H663V711.8H668V724.1H672.9V730.8H677.6V794.8H682.9V816.1H687.9V870.2H692.8V891.5H698.1V915.5H703V951.1H708V957.9H710.3V972.5Z" fill="#5cbdbe"/>
<path d="M206.8 972.5v-9M304.1 972.5v-9M401.3 972.5v-9M498.6 972.5v-9M595.9 972.5v-9M693.2 972.5v-9" stroke="#000" stroke-width="1.3" fill="none"/>
<rect x="109.5" y="675.5" width="600.8" height="297" fill="none" stroke="#000" stroke-width="1.3"/>
<rect x="847.3" y="675.5" width="599.3" height="297" fill="#e9e9e9"/>
<path d="M848.7 675.5V972.5M972.1 675.5V972.5M1094 675.5V972.5M1217.3 675.5V972.5M1340.4 675.5V972.5M847.3 690.3H1446.6M847.3 728.4H1446.6M847.3 765.9H1446.6M847.3 803.6H1446.6M847.3 840.9H1446.6M847.3 879.2H1446.6M847.3 917H1446.6M847.3 954.8H1446.6" stroke="#1ff" stroke-width="1.1" fill="none"/>
<path d="M847.3 972.5V894.8H849.6V887.5H854.6V837.9H858.1V889H861V919.6H863.9V913.8H867.2V900.7H870.7V905.9H876.5V885.5H878.8V899.2H881.8V851.6H884.7V792H887.6V829.1H890.5V764H893.4V753.2H896.4V784.5H899.9V809.6H902.8V804.3H908.6V829.1H911.5V851H915.3V893.4H918.2V858.3H921.2V894.2H924.7V897.2H927.6V947.4H931.1V931.3H934V940.9H936.9V935.1H939.9V938H942.8V948.8H945.1V951.8H948V932.2H950.9V910.9H953.9V829.1H956.8V868H960.3V845.8H963.2V819.5H966.1V807.8H969.1V757.6H972V800.8H974.9V816H977.8V789.7H981V814.5H983.9V792.6H986.9V803.7H989.8V791.2H993.3V870.9H996.8V862.7H1000V868.5H1002.6V862.7H1005.5V867.1H1008.4V890.4H1011.3V932.2H1014.2V959.1H1017.2V905H1020.1V918.2H1023V936.3H1025.9V875.8H1029.4V877.9H1032.3V889.6H1035.3V883.7H1038.2V875.8H1041.7V870.9H1044.6V825.3H1047.5V832H1050.4V862.7H1053.4V844.6H1056.9V818.3H1059.8V848.7H1062.7V828.2H1065.6V849.6H1069.1V875.8H1072V849.6H1075V859.2H1077.9V891.3H1080.8V882.6H1083.7V881.7H1086.6V919.6H1089.6V906.5H1092.5V902.1H1095.4V863.3H1098.3V816.6H1101.8V860.4H1104.7V934.2H1107.7V926.4H1110.6V856.3H1113.5V877.9H1117V892.5H1119.9V864.2H1122.8V829.1H1125.8V826.2H1129.3V817.4H1132.2V719.6H1135.1V782.4H1138V751.8H1141.5V735.7H1144.5V740.1H1147.4V789.1H1150V801.4H1153.1V795.5H1156.1V830H1159V855.4H1161.9V918.2H1164.8V931.3H1167.7V880.8H1170.7V941.5H1173.6V935.1H1177.1V948.8H1180V924H1182.9V910H1185.8V912.3H1188.8V931.3H1192.3V922.6H1198.7V929.3H1201.6V909.4H1204.5V889.6H1207.4V918.2H1210.9V886.6H1214.5V829.1H1217.4V835.8H1220.3V821.8H1223.2V818.3H1225.5V826.2H1228.5V789.7H1231.4V812.5H1234.3V873.8H1237.2V875.8H1240.7V802H1243.6V870H1246.6V915.3H1249.5V877.3H1252.4V934.2H1255.9V949.7H1258.8V900.1H1261.8V910H1264.7V917.6H1267.6V949.7H1271.1V904.2H1274V910.9H1276.9V932.8H1280.4V861.2H1283.4V912.3H1285.7V943H1288.6V894.8H1291.5V866.2H1294.5V835.8H1297.4V816.6H1300V834.1H1303.4V795H1306.4V754.7H1309.3V817.4H1312.8V766.4H1315.7V708.5H1318.6V744.5H1321.5V788.2H1325V801.4H1328.5V797H1331.5V799.9H1334.4V830H1337.3V837.9H1340.2V848.7H1343.1V887.5H1346.1V896.3H1349V900.7H1351.9V867.1H1354.8V858.3H1357.7V851H1360.7V846.6H1363.6V844.3H1366.5V861.2H1369.4V870.9H1372.3V886.6H1375.3V912.9H1378.8V872H1381.7V794.1H1384.6V811.6H1387.5V754.7H1390.4V769.3H1393.4V731.9H1396.3V763.4H1399.2V788.2H1402.1V825.3H1405.6V817.4H1408.5V761.1H1411.5V781.5H1414.4V802.8H1417.3V778.6H1420.2V914.7H1423.1V910.9H1426.6V855.4H1429.6V896.3H1432.5V908H1435.4V896.3H1438.3V910.9H1441.8V901.2H1444.7V884.6H1446.2V972.5Z" fill="#5cbdbe"/>
<path d="M896.1 972.5v-5M944.3 972.5v-9M992.5 972.5v-5M1040.7 972.5v-9M1089 972.5v-5M1137.2 972.5v-9M1185.4 972.5v-5M1233.6 972.5v-9M1281.8 972.5v-5M1330 972.5v-9M1378.2 972.5v-5M1426.4 972.5v-9" stroke="#000" stroke-width="1.3" fill="none"/>
<rect x="847.3" y="675.5" width="599.3" height="297" fill="none" stroke="#000" stroke-width="1.3"/>
<g clip-path="url(#ce)"><path d="M1590.2 170.9C1591.9 171 1596.5 171.6 1600.4 171.5C1604.2 171.5 1608.7 170.5 1613.4 170.4C1618.1 170.4 1623.5 171.2 1628.5 171.3C1633.6 171.4 1639.4 171.2 1643.7 171.1C1648.1 171 1651.7 171.2 1654.6 170.4C1657.5 169.7 1659.1 166.6 1661.1 166.5C1663.1 166.5 1664 169.9 1666.5 170C1669 170.1 1673.5 168.7 1676.2 167.2C1679 165.6 1680.2 164.8 1682.7 160.7C1685.3 156.5 1688.5 149.3 1691.4 142.3C1694.3 135.2 1697.2 125.6 1700.1 118.4C1703 111.2 1706.4 103.1 1708.8 98.9C1711.1 94.7 1712.4 94.6 1714.2 93.5C1716 92.3 1717.6 92.1 1719.6 92C1721.6 91.8 1722.1 93.2 1726.1 92.4C1730.1 91.6 1737 89.3 1743.5 87C1750 84.6 1757.9 80.5 1765.1 78.3C1772.4 76.1 1781.4 74.4 1786.8 73.5C1792.2 72.6 1794 72.8 1797.7 72.9C1801.3 73 1803.1 73.2 1808.5 74C1813.9 74.8 1824 76.9 1830.2 77.6C1836.3 78.4 1840.7 77.9 1845.4 78.3C1850.1 78.7 1853.7 78.7 1858.4 79.8C1863.1 80.9 1868.1 83.4 1873.5 84.8C1879 86.2 1884.4 87.7 1890.9 88.5C1897.4 89.3 1904.6 89.9 1912.6 89.8C1920.5 89.7 1929.6 88.8 1938.6 88.1C1947.6 87.3 1962.1 85.7 1966.8 85.2" fill="none" stroke="#b4b4de" stroke-width="2.2" stroke-linejoin="round"/><path d="M1590.2 206.9C1590.8 206.7 1588.2 205.5 1593.9 205.6C1599.5 205.6 1614.4 207.2 1624.2 207.3C1634 207.4 1646.4 206.9 1652.4 206.2C1658.4 205.5 1657.1 203.3 1660 203C1662.9 202.7 1666.8 204.8 1669.7 204.5C1672.6 204.1 1674.8 203 1677.3 200.8C1679.9 198.6 1682.2 196.1 1684.9 191C1687.6 186 1690.7 177.5 1693.6 170.4C1696.5 163.4 1699.4 155.1 1702.3 148.8C1705.2 142.4 1708.8 135.8 1710.9 132.5C1713.1 129.2 1712.7 129.4 1715.3 128.8C1717.8 128.2 1720.7 130 1726.1 128.8C1731.5 127.6 1742 123.8 1747.8 121.7C1753.6 119.5 1754.3 117.9 1760.8 115.8C1767.3 113.7 1780.7 110.5 1786.8 109.3C1793 108.1 1794 108.7 1797.7 108.9C1801.3 109 1803.8 109.5 1808.5 110.2C1813.2 110.9 1819.7 112.6 1825.8 113C1832 113.4 1839.9 112.3 1845.4 112.6C1850.8 112.8 1853.7 113.6 1858.4 114.7C1863.1 115.9 1867.4 117.8 1873.5 119.5C1879.7 121.2 1888.7 123.8 1895.2 124.9C1901.7 126.1 1905.3 126.5 1912.6 126.4C1919.8 126.4 1929.2 125.5 1938.6 124.5C1948 123.5 1963.9 121.2 1969 120.6" fill="none" stroke="#f08a24" stroke-width="2.2" stroke-linejoin="round"/><path d="M1590.2 241.7C1595.8 242 1613.1 243.4 1624.2 243.4C1635.3 243.4 1649.1 242.1 1656.7 241.7C1664.3 241.3 1666.5 241.6 1669.7 241C1673 240.5 1674.1 240.1 1676.2 238.4C1678.4 236.7 1680.8 233.9 1682.7 230.8C1684.7 227.8 1686 225.4 1688.2 220C1690.3 214.6 1693 205.4 1695.8 198.6C1698.5 191.8 1701.9 184.4 1704.4 179.1C1707 173.9 1709.3 169.4 1710.9 167.2C1712.6 165 1711.7 165.7 1714.2 165.7C1716.7 165.6 1721.2 167.8 1726.1 166.8C1731 165.7 1737 162.2 1743.5 159.6C1750 157 1757.9 153.5 1765.1 151.4C1772.4 149.2 1781.4 147.5 1786.8 146.6C1792.2 145.7 1792.2 145.7 1797.7 146.2C1803.1 146.6 1811.4 149.1 1819.3 149.4C1827.3 149.7 1838.9 147.9 1845.4 148.1C1851.9 148.3 1853.7 149.2 1858.4 150.5C1863.1 151.8 1867.4 153.8 1873.5 155.7C1879.7 157.6 1889.8 160.5 1895.2 161.8C1900.7 163 1898.8 163.3 1906.1 163.1C1913.3 162.9 1928.1 161.6 1938.6 160.7C1949.1 159.8 1963.9 158.3 1969 157.9" fill="none" stroke="#f2c08e" stroke-width="2.2" stroke-linejoin="round"/><path d="M1590.2 273.3C1595.8 273.5 1613.1 274.3 1624.2 274.2C1635.3 274.1 1649.1 273 1656.7 272.5C1664.3 271.9 1666.1 272.1 1669.7 271C1673.4 269.8 1675.5 269 1678.4 265.5C1681.3 262.1 1684.2 256.1 1687.1 250.4C1690 244.6 1693.6 236.2 1695.8 230.8C1697.9 225.5 1698.3 222.8 1700.1 218.1C1701.9 213.5 1704.8 206.5 1706.6 203C1708.4 199.4 1709.1 198.2 1710.9 196.9C1712.7 195.6 1715.2 195.2 1717.4 195.4C1719.7 195.6 1720 199.1 1724.4 198.2C1728.7 197.3 1736.7 192.8 1743.5 190C1750.3 187.1 1757.9 183.3 1765.1 181.3C1772.4 179.2 1781.4 178.1 1786.8 177.6C1792.2 177.1 1792.6 177.6 1797.7 178C1802.7 178.5 1811.8 180.2 1817.2 180.4C1822.6 180.6 1824.8 179.3 1830.2 179.1C1835.6 179 1844.3 178.8 1849.7 179.6C1855.1 180.3 1857.6 181.7 1862.7 183.5C1867.8 185.2 1873.9 188.2 1880.1 190C1886.2 191.7 1894.1 193.1 1899.6 193.9C1905 194.6 1906.1 194.7 1912.6 194.3C1919.1 193.9 1929.2 193 1938.6 191.7C1948 190.4 1963.9 187.5 1969 186.7" fill="none" stroke="#22a84a" stroke-width="2.2" stroke-linejoin="round"/><path d="M1590.2 307.8C1595.8 308 1613.1 309 1624.2 308.9C1635.3 308.8 1649.1 307.7 1656.7 307.2C1664.3 306.6 1666.1 306.8 1669.7 305.6C1673.4 304.5 1675.5 304 1678.4 300.2C1681.3 296.4 1684.2 289.7 1687.1 282.9C1690 276 1692.9 266.6 1695.8 259C1698.6 251.4 1702.3 242 1704.4 237.3C1706.6 232.6 1707.1 232.2 1708.8 230.8C1710.4 229.5 1711.6 229 1714.2 229.3C1716.8 229.6 1719.5 233.5 1724.4 232.6C1729.3 231.7 1736.7 226.8 1743.5 223.9C1750.3 221 1758.3 216.9 1765.1 214.9C1772 212.9 1778.1 211.8 1784.7 211.6C1791.2 211.5 1798.4 213.4 1804.2 213.8C1809.9 214.2 1814.3 214.4 1819.3 214.2C1824.4 214.1 1829.8 212.8 1834.5 212.9C1839.2 213.1 1842.8 213.8 1847.5 214.9C1852.2 215.9 1856.6 217.4 1862.7 219.2C1868.9 221 1877.5 224.2 1884.4 225.7C1891.3 227.3 1894.9 228.7 1903.9 228.6C1912.9 228.4 1927.8 226 1938.6 224.7C1949.4 223.4 1963.9 221.4 1969 220.7" fill="none" stroke="#ec9abc" stroke-width="2.2" stroke-linejoin="round"/><path d="M1590.2 339.9C1595.8 340.2 1613.1 341.9 1624.2 341.9C1635.3 341.9 1649.1 340.5 1656.7 339.9C1664.3 339.3 1666.1 339.4 1669.7 338.2C1673.4 337 1675.5 336.5 1678.4 332.7C1681.3 329 1684.2 322.3 1687.1 315.4C1690 308.5 1692.9 299.3 1695.8 291.6C1698.6 283.8 1702.1 273.8 1704.4 268.8C1706.8 263.7 1708 262.5 1709.8 261.2C1711.7 259.9 1712.6 260.3 1715.3 260.8C1718 261.2 1722.1 264.3 1726.1 264C1730.1 263.7 1734.1 261.1 1739.1 259C1744.2 256.9 1750 253.6 1756.5 251.4C1763 249.3 1773.1 246.8 1778.1 246C1783.2 245.2 1781.8 246 1786.8 246.5C1791.9 246.9 1801.3 248.7 1808.5 248.8C1815.7 248.9 1824 247 1830.2 247.1C1836.3 247.2 1839.9 248 1845.4 249.3C1850.8 250.5 1856.9 253 1862.7 254.7C1868.5 256.4 1873.9 258.4 1880.1 259.5C1886.2 260.5 1893.4 261.1 1899.6 261.2C1905.7 261.3 1910.4 260.8 1916.9 260.1C1923.4 259.5 1929.9 258.3 1938.6 257.3C1947.3 256.2 1963.9 254.4 1969 253.8" fill="none" stroke="#18a6e2" stroke-width="2.2" stroke-linejoin="round"/><path d="M1590.2 396.7C1597.6 396.6 1624 396.4 1635 396.1C1646.1 395.7 1651.3 395.2 1656.7 394.5C1662.1 393.9 1664.3 393.5 1667.6 392.4C1670.8 391.3 1674.1 390.2 1676.2 388C1678.4 385.9 1679.1 383.9 1680.6 379.4C1682 374.8 1683.5 366.7 1684.9 360.9C1686.4 355.2 1687.8 348.6 1689.3 344.7C1690.7 340.7 1691.8 339.8 1693.6 337.1C1695.4 334.4 1697.6 332.4 1700.1 328.4C1702.6 324.4 1705.9 317 1708.8 313.2C1711.7 309.4 1714.5 308 1717.4 305.6C1720.3 303.3 1723.2 300.8 1726.1 299.1C1729 297.5 1730.1 296.6 1734.8 295.9C1739.5 295.2 1748.5 295.7 1754.3 294.8C1760.1 293.9 1764.4 291.4 1769.5 290.5C1774.5 289.5 1780 288.9 1784.7 288.9C1789.4 288.9 1791.9 290.1 1797.7 290.5C1803.4 290.8 1812.1 290.9 1819.3 291.1C1826.6 291.3 1833.8 291.1 1841 291.6C1848.3 292 1855.5 292.9 1862.7 293.7C1869.9 294.5 1877.5 295.7 1884.4 296.3C1891.3 296.9 1896.7 297.4 1903.9 297.2C1911.1 296.9 1919.8 295.6 1927.8 294.8C1935.7 294 1945.1 292.9 1951.6 292.2C1958.1 291.5 1964.3 290.9 1966.8 290.7" fill="none" stroke="#fb1414" stroke-width="2.2" stroke-linejoin="round"/><path d="M1590.2 429.9C1594 429.7 1607.3 429 1613.4 428.6C1619.4 428.1 1619.1 427.4 1626.4 427.3C1633.6 427.1 1649.5 427.9 1656.7 427.7C1664 427.5 1665.6 426.9 1669.7 426C1673.9 425 1678.4 424.6 1681.7 422.1C1684.9 419.5 1686.9 415.9 1689.3 410.8C1691.6 405.7 1693.2 399.6 1695.8 391.3C1698.3 383 1702.1 368.5 1704.4 360.9C1706.8 353.3 1708.2 349.4 1709.8 345.8C1711.5 342.1 1712.7 339.9 1714.2 338.8C1715.6 337.7 1716.5 338.6 1718.5 339.3C1720.5 339.9 1723.4 342.9 1726.1 342.5C1728.8 342.1 1731.2 339.4 1734.8 337.1C1738.4 334.7 1744.2 330.7 1747.8 328.4C1751.4 326.2 1751.4 325.2 1756.5 323.6C1761.5 322.1 1770.9 320.2 1778.1 319.3C1785.4 318.4 1793 318.5 1799.8 318C1806.7 317.5 1813.6 316.6 1819.3 316.3C1825.1 315.9 1830.5 315.5 1834.5 315.8C1838.5 316.1 1839.2 316.6 1843.2 318C1847.2 319.4 1853.3 322.5 1858.4 324.1C1863.4 325.6 1868.5 326.4 1873.5 327.3C1878.6 328.2 1884.4 329.4 1888.7 329.5C1893.1 329.6 1894.9 328.9 1899.6 328C1904.3 327.1 1910.4 325.1 1916.9 324.1C1923.4 323.1 1931.4 322.4 1938.6 321.9C1945.8 321.4 1955.2 321.2 1960.3 320.8C1965.3 320.5 1967.5 319.9 1969 319.7" fill="none" stroke="#1212f2" stroke-width="2.2" stroke-linejoin="round"/></g>
<path d="M1637.3 434.5v-6.5M1684.4 434.5v-12.5M1731.4 434.5v-6.5M1778.5 434.5v-12.5M1825.5 434.5v-6.5M1872.5 434.5v-12.5M1919.6 434.5v-6.5" stroke="#000" stroke-width="1.2" fill="none"/>
<path d="M1590.3 25.5V434.5H1966.6V25.5" fill="none" stroke="#262626" stroke-width="1.5"/><path d="M1590.3 25.5H1966.6" fill="none" stroke="#787878" stroke-width="1.6"/><path d="M1626 14.6L1629.3 16.2" stroke="#999" stroke-width="1"/>
<path d="M1717.75 68L1710.5 362" stroke="#ff0a0a" stroke-width="4.3" stroke-dasharray="14.5 4.2 19.5 4.2 19.5 4.2 19.5 4.2 19.5 4.2 19.5 4.2 19.5 4.2 19.5 4.2 19.5 4.2 19.5 4.2 19.5 4.2 19.5 4.2" fill="none"/>
<polygon points="1718.1,43.6 1709.9,68.3 1726.2,68.3" fill="#ff0a0a"/>
<path d="M1718.3 272.1L1730.2 273" stroke="#000" stroke-width="3.4" fill="none"/><polygon points="1738.4,273.6 1722.9,279.7 1730.2,273 1724,265.3" fill="#000"/>
<path d="M1780.6 251.1L1795.1 257.6" stroke="#000" stroke-width="3.4" fill="none"/><polygon points="1802.6,261 1786,261.4 1795.1,257.6 1791.9,248.3" fill="#000"/>
<path d="M1835.4 251.1L1842.7 259" stroke="#000" stroke-width="3.4" fill="none"/><polygon points="1848.3,265.1 1832.8,258.9 1842.7,259 1843.4,249.2" fill="#000"/>
<path d="M1715.3 311.9L1727.5 311.9" stroke="#000" stroke-width="3.4" fill="none"/><polygon points="1735.7,311.9 1720.7,319.1 1727.5,311.9 1720.7,304.7" fill="#000"/>
<rect x="1789" y="560.5" width="86" height="409.2" fill="url(#hatch)"/>
<path d="M1596.2 700.8C1598.7 700.9 1605.2 701.7 1611.1 701.4C1617 701.1 1624.9 699.2 1631.8 698.9C1638.8 698.5 1645.7 699.8 1652.6 699.3C1659.5 698.8 1667.4 696.7 1673.3 695.8C1679.2 694.8 1683.3 694.8 1687.8 693.5C1692.3 692.2 1696.1 690.4 1700.3 687.9C1704.4 685.4 1708.6 680.9 1712.7 678.6C1716.9 676.2 1721.4 674.1 1725.2 674C1729 673.9 1732.4 676.4 1735.5 678.1C1738.6 679.9 1741.7 683.4 1743.8 684.8C1746 686.2 1746.6 686.8 1748.4 686.4C1750.1 686.1 1751.8 685.4 1754.2 682.7C1756.5 680 1759 675.3 1762.5 670.3C1765.9 665.3 1770.8 657.1 1774.9 652.6C1779.1 648.2 1783.2 645.8 1787.4 643.7C1791.5 641.7 1795.7 641.1 1799.8 640.2C1804 639.3 1808.4 638.6 1812.2 638.1C1816 637.7 1819.5 637.3 1822.6 637.5C1825.7 637.7 1827.8 637.9 1830.9 639.6C1834 641.2 1837.5 643.4 1841.3 647.5C1845.1 651.5 1849.6 658.3 1853.7 664C1857.9 669.8 1862.7 677.4 1866.2 681.7C1869.6 686 1872 688.1 1874.5 690C1876.9 691.8 1877.9 692.6 1880.7 692.7C1883.4 692.8 1887.6 691.3 1891 690.6C1894.5 689.9 1898 688.5 1901.4 688.3C1904.9 688.1 1908 688.5 1911.8 689.3C1915.6 690.2 1920.1 692.3 1924.2 693.5C1928.4 694.7 1931.8 696.3 1936.7 696.6C1941.5 697 1948.4 695.4 1953.3 695.6C1958.1 695.7 1963.6 697.3 1965.7 697.6" fill="none" stroke="#b6b6dc" stroke-width="2.6" stroke-linejoin="round"/>
<path d="M1596.2 768.8C1600.4 768.8 1613.8 768.9 1621.5 768.8C1629.1 768.7 1635.3 768.1 1642.2 768.1C1649.1 768.1 1656.7 769 1662.9 768.8C1669.2 768.5 1674 766.8 1679.5 766.7C1685.1 766.6 1691.3 769.4 1696.1 768.1C1701 766.9 1704.1 761.8 1708.6 759.4C1713.1 757.1 1718.9 754.6 1723.1 754.3C1727.2 753.9 1730 755.8 1733.4 757.4C1736.9 758.9 1741.2 762.9 1743.8 763.6C1746.4 764.3 1746.6 764.3 1749 761.5C1751.4 758.7 1754.7 752.7 1758.3 747C1762 741.3 1766.6 731.8 1770.8 727.3C1774.9 722.8 1779.1 721.9 1783.2 720C1787.4 718.1 1791.5 718.3 1795.7 715.9C1799.8 713.5 1804.3 708.5 1808.1 705.5C1811.9 702.6 1815.5 699.7 1818.5 698.3C1821.4 696.8 1823.3 696.6 1825.7 696.8C1828.1 697 1830 696.8 1833 699.3C1835.9 701.8 1839.5 705.5 1843.3 711.7C1847.2 718 1851.6 729 1855.8 736.6C1859.9 744.2 1864.8 753 1868.2 757.4C1871.7 761.7 1873.4 762 1876.5 762.5C1879.6 763.1 1883.4 761.2 1886.9 760.5C1890.4 759.8 1893.8 758.2 1897.3 758.4C1900.7 758.6 1903.5 760 1907.6 761.5C1911.8 763 1918 766.8 1922.1 767.3C1926.3 767.8 1928.7 765.6 1932.5 764.6C1936.3 763.7 1940.8 761.7 1945 761.5C1949.1 761.3 1953.9 762.7 1957.4 763.6C1960.9 764.4 1964.3 766.2 1965.7 766.7" fill="none" stroke="#f0b880" stroke-width="2.6" stroke-linejoin="round"/>
<path d="M1596.2 848.8C1600.4 848.5 1613.1 847.6 1621.5 847.5C1629.8 847.4 1638.1 848.6 1646.4 848.1C1654.7 847.6 1664.3 845.1 1671.2 844.6C1678.2 844.2 1683 846 1687.8 845.4C1692.7 844.9 1696.5 842.4 1700.3 841.3C1704.1 840.2 1707.5 838.9 1710.6 838.8C1713.7 838.7 1716.2 839.7 1718.9 840.9C1721.7 842.1 1725.2 844.9 1727.2 846.1C1729.3 847.2 1729.6 848.5 1731.4 847.5C1733.1 846.5 1735.2 843.4 1737.6 839.8C1740 836.3 1742.8 831 1745.9 826.4C1749 821.7 1752.8 815.5 1756.3 811.8C1759.7 808.2 1763.9 805.7 1766.6 804.6C1769.4 803.5 1770.4 804.4 1772.8 805.2C1775.3 806 1778.5 808.2 1781.1 809.4C1783.7 810.5 1786 812.7 1788.4 812.3C1790.8 811.8 1793.1 809.8 1795.7 806.7C1798.2 803.5 1800.8 798 1804 793.2C1807.1 788.3 1811.2 781.3 1814.3 777.6C1817.4 774 1820.2 772.4 1822.6 771.4C1825 770.4 1826.4 770.4 1828.8 771.4C1831.3 772.4 1834.4 774.3 1837.1 777.6C1839.9 780.9 1842.3 785.1 1845.4 791.1C1848.5 797.2 1852.3 807 1855.8 813.9C1859.2 820.8 1863 828.3 1866.2 832.6C1869.3 836.9 1872 838.6 1874.5 839.8C1876.9 841 1878.3 840.5 1880.7 839.8C1883.1 839.1 1886.2 836.7 1889 835.7C1891.7 834.7 1894.2 833.9 1897.3 834C1900.4 834.2 1903.8 835.7 1907.6 836.7C1911.4 837.8 1915.9 840.3 1920.1 840.5C1924.2 840.6 1928.7 838.5 1932.5 837.8C1936.3 837 1939.4 835.9 1942.9 836.1C1946.3 836.3 1949.4 837 1953.3 838.8C1957.1 840.6 1963.6 845.4 1965.7 846.7" fill="none" stroke="#d8404e" stroke-width="2.6" stroke-linejoin="round"/>
<path d="M1596.2 936.3C1599.7 936.3 1611.4 936.8 1617.3 936.7C1623.3 936.6 1626 935.6 1631.8 935.6C1637.7 935.6 1646 936.9 1652.6 936.7C1659.1 936.4 1665.4 934.5 1671.2 934.2C1677.1 933.9 1683 935.2 1687.8 934.8C1692.7 934.4 1696.6 932.4 1700.3 931.7C1703.9 931 1706.1 930.4 1709.6 930.5C1713.1 930.5 1718.1 932.2 1721 932.1C1723.9 932 1724.8 932.1 1727.2 930C1729.6 928 1732.4 923.6 1735.5 919.7C1738.6 915.7 1742.4 910 1745.9 906.2C1749.3 902.4 1753.1 898.9 1756.3 896.9C1759.4 894.8 1761.8 894 1764.6 893.7C1767.3 893.5 1769.7 894.3 1772.8 895.2C1776 896.1 1780.4 899.2 1783.2 899.3C1786 899.5 1787 898.7 1789.4 895.8C1791.9 893 1794.6 887.7 1797.7 882.3C1800.8 877 1805 868.5 1808.1 863.7C1811.2 858.8 1813.8 855.4 1816.4 853.3C1819 851.2 1821.2 851.1 1823.6 851.2C1826.1 851.4 1828.3 851.6 1830.9 854.3C1833.5 857.1 1836.1 861.8 1839.2 867.8C1842.3 873.9 1846.1 883.4 1849.6 890.6C1853 897.9 1856.5 905 1859.9 911.4C1863.4 917.8 1867.9 925.5 1870.3 929C1872.7 932.5 1872.9 932.3 1874.5 932.1C1876 931.9 1877.2 930 1879.6 928C1882.1 925.9 1885.9 921.5 1889 919.7C1892.1 917.9 1895.2 917.1 1898.3 917.2C1901.4 917.2 1903.7 918.5 1907.6 920.1C1911.6 921.6 1918 925.6 1922.1 926.5C1926.3 927.4 1929.1 925.9 1932.5 925.5C1936 925.1 1939.4 924 1942.9 924.2C1946.3 924.5 1949.4 925.8 1953.3 926.9C1957.1 928.1 1963.6 930.4 1965.7 931.1" fill="none" stroke="#10a8e2" stroke-width="2.6" stroke-linejoin="round"/>
<path d="M1657.8 969.7v-5M1719.4 969.7v-12.8M1781 969.7v-5M1842.6 969.7v-12.8M1904.2 969.7v-5" stroke="#555" stroke-width="1.2" fill="none"/>
<rect x="1596.2" y="560.5" width="369.3" height="409.2" fill="none" stroke="#555" stroke-width="1.3"/>
<text x="-1.24" y="62.6" font-size="41.5" font-weight="bold">a</text>
<text x="741.97" y="62" font-size="40.8" font-weight="bold">b</text>
<text x="-0.68" y="681.2" font-size="41" font-weight="bold">c</text>
<text x="741.37" y="681.2" font-size="40.8" font-weight="bold">d</text>
<text x="1485.57" y="61.7" font-size="41" font-weight="bold">e</text>
<text x="1490.11" y="599.5" font-size="40.5" font-weight="bold">f</text>
<text x="338.32" y="137.7" font-size="33.5" font-weight="bold" fill="#ff9a10" letter-spacing="0.58">(111)</text>
<text x="662.51" y="90.6" font-size="28.73">Cu2</text>
<text x="663.91" y="121.9" font-size="28.73" letter-spacing="-0.21">Sb</text>
<text x="664.1" y="151.4" font-size="28.73">S</text>
<text x="662.51" y="178.8" font-size="28.73" letter-spacing="-0.60">Cu1</text>
<text x="87.83" y="263.8" font-size="33.36" font-weight="bold" fill="#fff">Pristine</text>
<text x="184.92" y="458.5" font-size="33.5" font-weight="bold" fill="#ffc000" letter-spacing="1.35">(111)</text>
<text x="128.88" y="568.5" font-size="33.36" font-weight="bold" fill="#fff">1 nm</text>
<text x="573.2" y="595.05" font-size="32.77" font-weight="bold" fill="#fff">[1 1 -2]</text>
<text x="461.67" y="311.6" font-size="33.24" font-weight="bold" fill="#fff">CuSb</text>
<text x="564.96" y="311.6" font-size="33.6" font-weight="bold" fill="#fff" letter-spacing="-0.26">Cu</text>
<text x="719.79" y="297.5" font-size="32.85" font-weight="bold">CuSb</text>
<text x="841.85" y="86.05" font-size="33.02" font-weight="bold" fill="#fff">Released</text>
<text x="845.53" y="426.55" font-size="33.5" font-weight="bold" fill="#ffc000" letter-spacing="1.30">(111)</text>
<text x="881.85" y="570" font-size="33.15" font-weight="bold" fill="#fff">1 nm</text>
<text x="1332.2" y="591.05" font-size="32.77" font-weight="bold" fill="#fff">[1 1 -2]</text>
<text x="1354.99" y="368.1" font-size="32.79" font-weight="bold" fill="#fff">Cu2</text>
<text x="1271.72" y="83" font-size="25.7" font-weight="bold" fill="#fff" letter-spacing="0.47">(111)</text>
<text x="1371.22" y="62.7" font-size="25.7" font-weight="bold" fill="#fff">(3-11)</text>
<text x="1384.32" y="145.7" font-size="25.7" font-weight="bold" fill="#fff" letter-spacing="-0.35">(2-20)</text>
<text x="1301.12" y="161.1" font-size="25.7" font-weight="bold" fill="#fff" letter-spacing="-0.23">(000)</text>
<text x="87.37" y="1008.1" font-size="31.95" letter-spacing="-0.08">0.0</text>
<text x="184.65" y="1008.1" font-size="31.95" letter-spacing="-0.24">0.4</text>
<text x="281.93" y="1008.1" font-size="31.95">0.8</text>
<text x="378.09" y="1008.1" font-size="31.95" letter-spacing="0.64">1.2</text>
<text x="475.37" y="1008.1" font-size="31.95" letter-spacing="0.56">1.6</text>
<text x="573.45" y="1008.1" font-size="31.95" letter-spacing="0.08">2.0</text>
<text x="670.13" y="1008.1" font-size="31.95" letter-spacing="-0.08">2.4</text>
<text x="319.71" y="1052.4" font-size="33.6">Distance (nm)</text>
<text x="131.88" y="714.7" font-size="38.72">(111) Plane</text>
<text x="553.03" y="712.6" font-size="33.4">CuSb</text>
<text x="825.77" y="1008.1" font-size="31.95" letter-spacing="-0.08">0.0</text>
<text x="922.19" y="1008.1" font-size="31.95" letter-spacing="-0.24">0.4</text>
<text x="1018.61" y="1008.1" font-size="31.95">0.8</text>
<text x="1113.91" y="1008.1" font-size="31.95" letter-spacing="0.64">1.2</text>
<text x="1210.33" y="1008.1" font-size="31.95" letter-spacing="0.56">1.6</text>
<text x="1307.55" y="1008.1" font-size="31.95" letter-spacing="0.08">2.0</text>
<text x="1403.97" y="1008.1" font-size="31.95" letter-spacing="-0.08">2.4</text>
<text x="1050" y="1052.4" font-size="33.73">Distance (nm)</text>
<text x="858.69" y="713.8" font-size="38.49">(111) Plane</text>
<text x="1186.62" y="749.1" font-size="33.53">CuSb</text>
<text x="856.33" y="752" font-size="33.31" fill="#ff1f8c">Cu2</text>
<text x="1068.84" y="752" font-size="33.14" fill="#ff1f8c">Cu2</text>
<text x="1328.74" y="754.1" font-size="33.2" fill="#ff1f8c">Cu2</text>
<text x="1557.48" y="473.2" font-size="29.44">8960</text>
<text x="1651.56" y="473.2" font-size="29.44">8980</text>
<text x="1745.64" y="473.2" font-size="29.44">9000</text>
<text x="1839.72" y="473.2" font-size="29.44">9020</text>
<text x="1933.8" y="473.2" font-size="29.44">9040</text>
<text x="1712.71" y="525.4" font-size="33.61">Energy (eV)</text>
<text transform="translate(1539.4 365.86) rotate(-90)" font-size="33.24">Norm. Absorbance</text>
<text x="1889.34" y="52.3" font-size="26.01" letter-spacing="0.80">(GPa)</text>
<text x="1909.6" y="81.6" font-size="26.01" letter-spacing="0.20">20.4</text>
<text x="1910.45" y="117.9" font-size="26.01">17.5</text>
<text x="1909.25" y="155.1" font-size="26.01" letter-spacing="0.21">14.9</text>
<text x="1919.33" y="183.8" font-size="26.01" letter-spacing="-0.09">8.9</text>
<text x="1918.46" y="219.2" font-size="26.01">3.7</text>
<text x="1919.75" y="251.8" font-size="26.01" letter-spacing="-0.60">1.0</text>
<text x="1899.68" y="282.7" font-size="26.3" fill="#fb1414" letter-spacing="1.40">Cu<tspan font-size="17.5" dy="6.5">2</tspan><tspan dy="-6.5">S</tspan></text>
<text x="1900.59" y="318.4" font-size="26.3" fill="#1414f2" letter-spacing="-0.13">CuS</text>
<text x="1740.54" y="282.7" font-size="25.2" letter-spacing="1.40">Cu<tspan font-size="14.5" dy="-9">+</tspan></text>
<text x="1793.54" y="281.7" font-size="25.2" letter-spacing="1.40">Cu<tspan font-size="14.5" dy="-9">+</tspan></text>
<text x="1842.04" y="286.6" font-size="25.2" letter-spacing="1.40">Cu<tspan font-size="14.5" dy="-9">2+</tspan></text>
<text x="1742.94" y="316.6" font-size="25.2" letter-spacing="1.40">Cu<tspan font-size="14.5" dy="-9">+</tspan></text>
<text x="1587.89" y="1006.7" font-size="29.6">0</text>
<text x="1710.57" y="1006.7" font-size="29.6">1</text>
<text x="1833.99" y="1006.7" font-size="29.6">2</text>
<text x="1957.11" y="1006.7" font-size="29.6">3</text>
<text x="1651.33" y="1051.7" font-size="33.43">Radial distance (Å)</text>
<text x="1608.99" y="597.7" font-size="28.53">(GPa)</text>
<text x="1794.04" y="616.1" font-size="33.26">Cu-S</text>
<text x="1607.2" y="686.9" font-size="28.04">20.4</text>
<text x="1604.9" y="757.4" font-size="28.04" letter-spacing="-0.13">14.9</text>
<text x="1617.14" y="835.7" font-size="28.04" letter-spacing="0.49">8.9</text>
<text x="1617.28" y="925.5" font-size="28.04" letter-spacing="-0.60">3.7</text>
<text transform="translate(73.7 0) rotate(-90)"><tspan x="-976.65" font-size="32.73">Intensity</tspan> <tspan x="-845.12" font-size="36.95">(arb. units)</tspan></text>
<text transform="translate(810.1 0) rotate(-90)"><tspan x="-976.65" font-size="32.73">Intensity</tspan> <tspan x="-845.12" font-size="36.95">(arb. units)</tspan></text>
<text transform="translate(1546.2 0) rotate(-90)"><tspan x="-958.66" font-size="33.2">FT Magnitude</tspan> <tspan x="-746.74" font-size="37.29">(arb. units)</tspan></text>
<path d="M555.1 716.2L542.2 739.7" stroke="#000" stroke-width="3.8" fill="none"/><polygon points="535,752.9 535.5,734.9 549.9,742.8" fill="#000"/>
<path d="M870.8 760.1L870.8 785.6" stroke="#ff1f8c" stroke-width="4.2" fill="none"/><polygon points="870.8,800.6 862.6,784.6 879,784.6" fill="#ff1f8c"/>
<path d="M1097.5 760.1L1097.5 785.6" stroke="#ff1f8c" stroke-width="4.2" fill="none"/><polygon points="1097.5,800.6 1089.3,784.6 1105.7,784.6" fill="#ff1f8c"/>
<path d="M1364.8 767.3L1364.8 788.3" stroke="#ff1f8c" stroke-width="4.2" fill="none"/><polygon points="1364.8,803.3 1356.6,787.3 1373,787.3" fill="#ff1f8c"/>
<path d="M1180.8 754.1L1166.2 766.3" stroke="#000" stroke-width="3.8" fill="none"/><polygon points="1154.3,776.3 1161.7,759.4 1172.2,772" fill="#000"/>
<path d="M1224.8 754.4L1224.8 777.8" stroke="#000" stroke-width="3.8" fill="none"/><polygon points="1224.8,792.8 1216.6,776.8 1233,776.8" fill="#000"/>
<path d="M1269.4 754.8L1288 768.8" stroke="#000" stroke-width="3.8" fill="none"/><polygon points="1300.4,778.1 1282.3,774.7 1292.1,761.6" fill="#000"/>
</svg>
</body></html>
